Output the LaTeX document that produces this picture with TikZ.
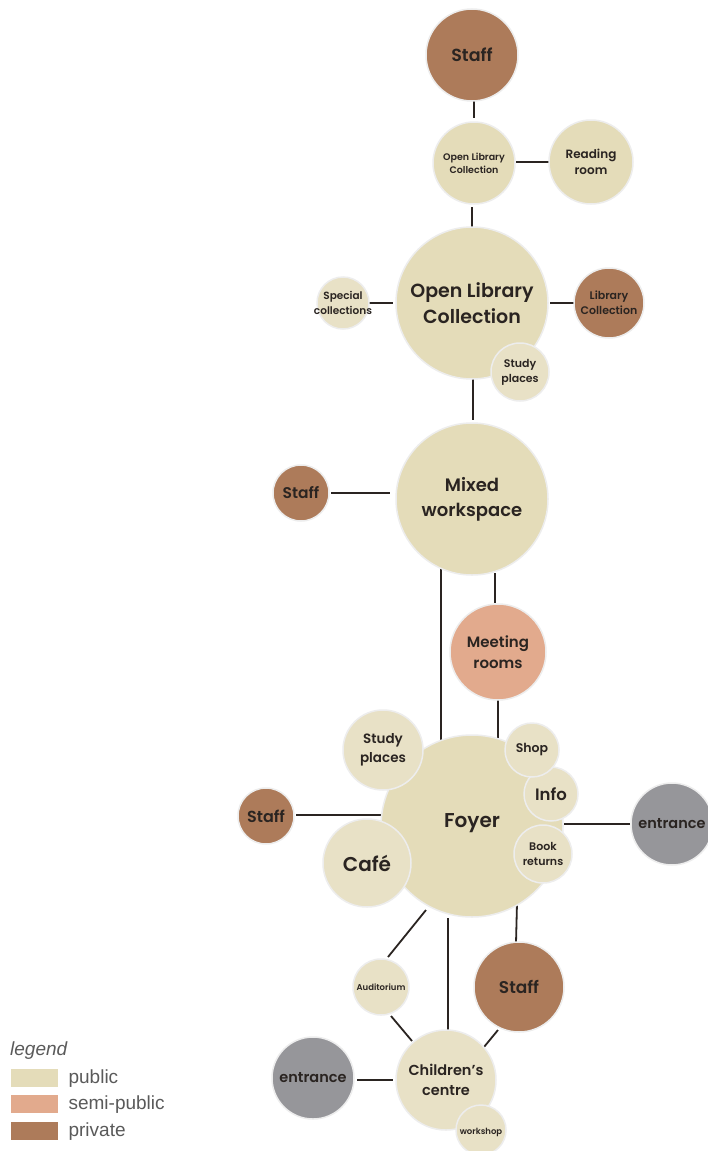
\documentclass[tikz,border=0pt]{standalone}
\usepackage{fontspec}
\IfFontExistsTF{Poppins SemiBold}{\newfontfamily\lab{Poppins SemiBold}}{%
  \IfFontExistsTF{Poppins Medium}{\newfontfamily\lab{Poppins Medium}}{\newfontfamily\lab{Poppins}[FakeBold=1.2]}}
\newfontfamily\legfont{Liberation Sans}
\usetikzlibrary{calc,backgrounds}
\definecolor{pub}{HTML}{E4DCB9}
\definecolor{publ}{HTML}{E8E1C6}
\definecolor{semi}{HTML}{E2AA8D}
\definecolor{priv}{HTML}{AD7B5A}
\definecolor{ent}{HTML}{96969A}
\definecolor{ink}{HTML}{2A2421}
\definecolor{rim}{HTML}{EDEDED}
\definecolor{legink}{HTML}{5A5A5A}
\newcommand{\fs}[1]{\fontsize{#1}{1.38\dimexpr#1pt\relax}\selectfont}
\tikzset{
  room/.style={circle, inner sep=0pt, outer sep=0pt, draw=rim, line width=1.5pt},
  pubroom/.style={room, fill=pub},
  publroom/.style={room, fill=publ},
  semiroom/.style={room, fill=semi},
  privroom/.style={room, fill=priv},
  entroom/.style={room, fill=ent},
  txt/.style={inner sep=0pt, align=center, text=ink, font=\lab\fs{#1}},
  link/.style={draw=ink, line width=1.8pt},
  swatch/.style={inner sep=0pt, minimum width=47pt, minimum height=18pt, anchor=north west},
  legtxt/.style={inner sep=0pt, anchor=west, text=legink, font=\legfont\fontsize{19}{22}\selectfont}
}
\begin{document}
\begin{tikzpicture}[x=1pt,y=-1pt]
\useasboundingbox (0,0) rectangle (707,1151);
\begin{pgfonlayer}{background}
\fill[white] (0,0) rectangle (707,1151);
\end{pgfonlayer}

% circles
\node[privroom, minimum size=92pt] (stafftop) at (472,55) {};
\node[pubroom, minimum size=82pt] (olcs) at (474,163) {};
\node[pubroom, minimum size=84pt] (reading) at (591,162) {};
\node[pubroom, minimum size=152pt] (olcb) at (472,303) {};
\node[publroom, minimum size=52pt] (special) at (343,303) {};
\node[privroom, minimum size=70pt] (libcol) at (609,303) {};
\node[publroom, minimum size=58pt] (studyt) at (520,372) {};
\node[pubroom, minimum size=152pt] (mixed) at (472,499) {};
\node[privroom, minimum size=56pt] (staffm) at (301,493) {};
\node[semiroom, minimum size=96pt] (meeting) at (498,652) {};
\node[pubroom, minimum size=182pt] (foyer) at (472,826) {};
\node[publroom, minimum size=80pt] (studyf) at (383,750) {};
\node[privroom, minimum size=56pt] (stafff) at (266,816) {};
\node[publroom, minimum size=88pt] (cafe) at (367,863) {};
\node[publroom, minimum size=54pt] (info) at (551,794) {};
\node[publroom, minimum size=54pt] (shop) at (532,750) {};
\node[publroom, minimum size=58pt] (books) at (543,854) {};
\node[entroom, minimum size=82pt] (entr) at (672,824) {};
\node[publroom, minimum size=56pt] (aud) at (381,987) {};
\node[privroom, minimum size=90pt] (staffb) at (519,987) {};
\node[publroom, minimum size=100pt] (child) at (446,1080) {};
\node[entroom, minimum size=82pt] (entl) at (313,1078) {};
\node[publroom, minimum size=50pt] (workshop) at (481,1130) {};

% texts
\node[txt=17.5] at (stafftop) {Staff};
\node[txt=9.5] at (olcs) {Open Library\\Collection};
\node[txt=12] at (reading) {Reading\\room};
\node[txt=19] at (olcb) {Open Library\\Collection};
\node[txt=10.5] at (special) {Special\\collections};
\node[txt=11] at (libcol) {Library\\Collection};
\node[txt=11] at (studyt) {Study\\places};
\node[txt=18] at (mixed) {Mixed\\workspace};
\node[txt=15.5] at (staffm) {Staff};
\node[txt=15] at (meeting) {Meeting\\rooms};
\node[txt=20] at ($(foyer)+(0,-3)$) {Foyer};
\node[txt=13.5] at (studyf) {Study\\places};
\node[txt=16] at (stafff) {Staff};
\node[txt=20] at (cafe) {Café};
\node[txt=16.5] at (info) {Info};
\node[txt=12.5] at (shop) {Shop};
\node[txt=11] at (books) {Book\\returns};
\node[txt=14.5] at (entr) {entrance};
\node[txt=8.5] at (aud) {Auditorium};
\node[txt=17] at (staffb) {Staff};
\node[txt=14.5] at (child) {Children’s\\centre};
\node[txt=14.5] at (entl) {entrance};
\node[txt=8.5] at ($(workshop)+(0,2)$) {workshop};

% connectors
\begin{pgfonlayer}{background}
\draw[link] ($(stafftop)+(2,45)$) -- ($(olcs)+(0,-45)$);
\draw[link] ($(olcs)+(42,-1)$) -- ($(reading)+(-42,0)$);
\draw[link] ($(olcs)+(-2,44)$) -- ($(olcb)+(0,-76)$);
\draw[link] ($(special)+(26,0)$) -- ($(olcb)+(-79,0)$);
\draw[link] ($(olcb)+(78,0)$) -- ($(libcol)+(-34,0)$);
\draw[link] ($(olcb)+(1,69)$) -- ($(mixed)+(1,-79)$);
\draw[link] ($(staffm)+(30,0)$) -- ($(mixed)+(-82,-6)$);
\draw[link] ($(mixed)+(-31,68)$) -- ($(foyer)+(-31,-86)$);
\draw[link] ($(mixed)+(23,74)$) -- ($(meeting)+(-3,-49)$);
\draw[link] ($(meeting)+(0,48)$) -- ($(foyer)+(26,-85)$);
\draw[link] ($(stafff)+(30,-1)$) -- ($(foyer)+(-90,-11)$);
\draw[link] ($(foyer)+(92,-2)$) -- ($(entr)+(-42,0)$);
\draw[link] ($(foyer)+(-46,84)$) -- ($(aud)+(7,-30)$);
\draw[link] ($(foyer)+(-24,92)$) -- ($(child)+(2,-50)$);
\draw[link] ($(foyer)+(45,77)$) -- ($(staffb)+(-3,-44)$);
\draw[link] ($(aud)+(10,29)$) -- ($(child)+(-34,-39)$);
\draw[link] ($(staffb)+(-21,43)$) -- ($(child)+(38,-33)$);
\draw[link] ($(entl)+(44,2)$) -- ($(child)+(-53,0)$);
\end{pgfonlayer}

% legend
\node[inner sep=0pt, anchor=west, text=legink, font=\legfont\itshape\fontsize{19}{22}\selectfont] (legtitle) at (10,1051) {legend};
\node[swatch, fill=pub] (swpub) at (11,1069) {};
\node[swatch, fill=semi] (swsemi) at (11,1095) {};
\node[swatch, fill=priv] (swpriv) at (11,1122) {};
\node[legtxt] at ($(swpub.east)+(10,0)$) {public};
\node[legtxt] at ($(swsemi.east)+(10,0)$) {semi-public};
\node[legtxt] at ($(swpriv.east)+(10,0)$) {private};
\end{tikzpicture}
\end{document}
